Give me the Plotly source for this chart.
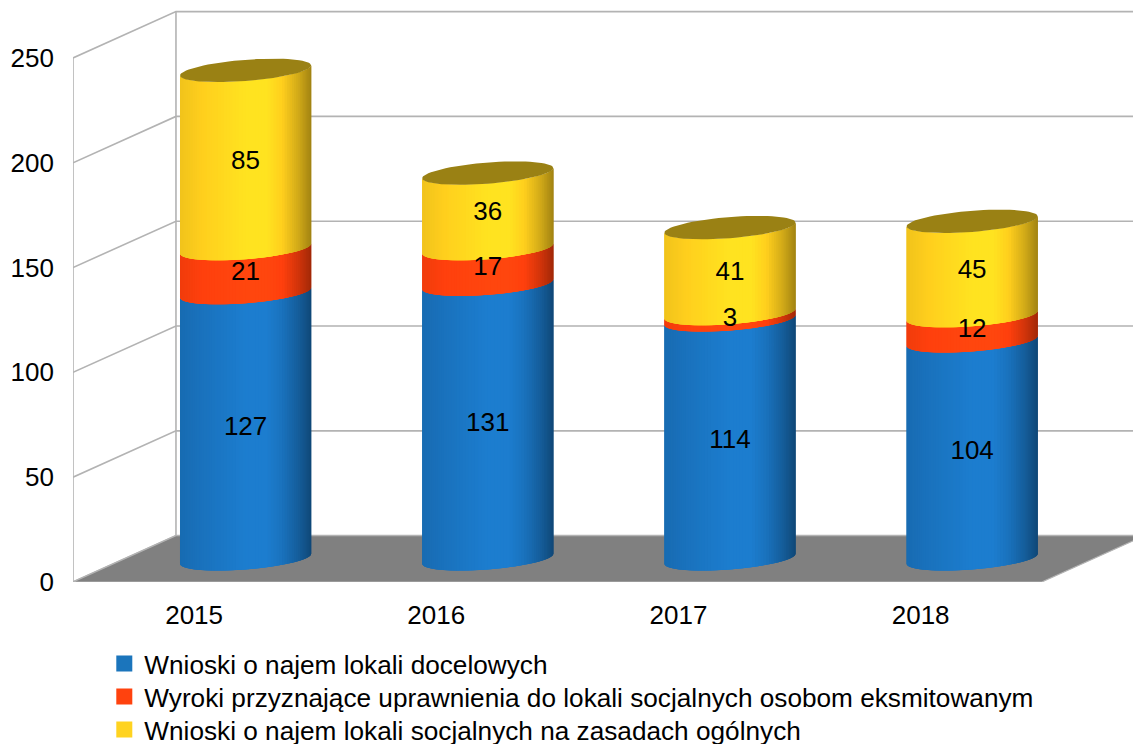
import math
import plotly.graph_objects as go

# ---- data ----
YEARS = ["2015", "2016", "2017", "2018"]
SERIES_NAMES = [
    "Wnioski o najem lokali docelowych",
    "Wyroki przyznające uprawnienia do lokali socjalnych osobom eksmitowanym",
    "Wnioski o najem lokali socjalnych na zasadach ogólnych",
]
DOCELOWE = [127, 131, 114, 104]
WYROKI = [21, 17, 3, 12]
OGOLNE = [85, 36, 41, 45]
Y_TICKS = [0, 50, 100, 150, 200, 250]

# ---- style ----
SERIES_VALUES = [DOCELOWE, WYROKI, OGOLNE]
PEAK_RGB = [(28, 125, 207), (280, 70, 14), (280, 227, 32)]
LEGEND_COL = ["#1b75bc", "#ff420e", "#ffd320"]
CAP_COL = "#9a8114"
GRID = "#b3b3b3"
FLOOR = "#808080"
FONT = "Liberation Sans"
FS = 26
LEGEND_FS = 26.2
LEGEND_ROWS_PX = [664, 697, 730]

W, H = 1133, 744
ML, MT, MB = 72.7, 10.0, 161.5
SLOT_PX = 242.25          # px per category
UNIT_PX = 2.098           # px per value unit
DEPTH_PX = (103.0, 46.4)  # oblique depth vector of the chart box
XMAX = (W - ML) / SLOT_PX - 0.5
YMAX = (H - MB - MT) / UNIT_PX

DX = DEPTH_PX[0] / SLOT_PX
DY = DEPTH_PX[1] / UNIT_PX
CX_OFF, CY_OFF = DX / 2, DY / 2
RX = 65.6 / SLOT_PX        # ellipse half-width
TILT = 5.0 / UNIT_PX       # rise of right extreme
RY = 10.6 / UNIT_PX        # depth half-height
LABEL_SHIFT = -2.5 / UNIT_PX


def rim(i, level, t):
    return (i + CX_OFF + RX * math.cos(t),
            level + CY_OFF + TILT * math.cos(t) + RY * math.sin(t))


SHADE = [(0.0, 0.86), (0.2, 0.92), (0.5, 1.0), (0.66, 1.0),
         (0.78, 0.91), (0.9, 0.75), (1.0, 0.58)]


def shade(f):
    for (a, va), (b, vb) in zip(SHADE, SHADE[1:]):
        if f <= b:
            return va + (vb - va) * (f - a) / (b - a)
    return SHADE[-1][1]


fig = go.Figure()

# walls and grid
wx, wy = [], []
for v in Y_TICKS:
    wx += [-0.5, -0.5 + DX, XMAX, None]
    wy += [v, v + DY, v + DY, None]
wx += [-0.5, -0.5, None, -0.5 + DX, -0.5 + DX, None]
wy += [0, Y_TICKS[-1], None, DY, Y_TICKS[-1] + DY, None]
fig.add_trace(go.Scatter(x=wx, y=wy, mode="lines", line=dict(color=GRID, width=1.6),
                         showlegend=False, hoverinfo="skip", cliponaxis=False))

# floor
n = len(YEARS)
fig.add_trace(go.Scatter(
    x=[-0.5, n - 0.5, n - 0.5 + DX, -0.5 + DX, -0.5],
    y=[0, 0, DY, DY, 0], mode="lines", fill="toself", fillcolor=FLOOR,
    line=dict(color=GRID, width=1.2), showlegend=False, hoverinfo="skip"))

# cylinders: vertical strips following the front rim of each band
N = 64
for s, vals in enumerate(SERIES_VALUES):
    for k in range(N):
        t0 = math.pi + math.pi * k / N
        t1 = math.pi + math.pi * min(k + 3, N) / N
        tm = math.pi + math.pi * (k + 0.5) / N
        f = (1 + math.cos(tm)) / 2
        m = shade(f)
        r, g, b = [min(255, int(round(c * m))) for c in PEAK_RGB[s]]
        xs, ys = [], []
        for i in range(n):
            lo = sum(SERIES_VALUES[q][i] for q in range(s))
            hi = lo + vals[i]
            ts = [t0 + (t1 - t0) * j / 3 for j in range(4)]
            low = [rim(i, lo, t) for t in ts]
            up = [rim(i, hi, t) for t in reversed(ts)]
            pts = low + up + [low[0]]
            xs += [p[0] for p in pts] + [None]
            ys += [p[1] for p in pts] + [None]
        fig.add_trace(go.Scatter(x=xs, y=ys, mode="lines", fill="toself",
                                 fillcolor=f"rgb({r},{g},{b})", line=dict(width=0),
                                 showlegend=False, hoverinfo="skip"))

# cap ellipses
cx, cy = [], []
for i in range(n):
    top = sum(v[i] for v in SERIES_VALUES)
    for j in range(73):
        p = rim(i, top, 2 * math.pi * j / 72)
        cx.append(p[0])
        cy.append(p[1])
    cx.append(None)
    cy.append(None)
fig.add_trace(go.Scatter(x=cx, y=cy, mode="lines", fill="toself", fillcolor=CAP_COL,
                         line=dict(width=0), showlegend=False, hoverinfo="skip"))

# value labels
for s, vals in enumerate(SERIES_VALUES):
    lx, ly, lt = [], [], []
    for i in range(n):
        lo = sum(SERIES_VALUES[q][i] for q in range(s))
        lx.append(i + CX_OFF)
        ly.append(lo + vals[i] / 2 + CY_OFF + LABEL_SHIFT)
        lt.append(str(vals[i]))
    fig.add_trace(go.Scatter(x=lx, y=ly, text=lt, mode="text", textposition="middle center",
                             textfont=dict(family=FONT, size=FS, color="black"),
                             showlegend=False, hoverinfo="skip", cliponaxis=False))

# legend entries: one legend per row so the row pitch can match
legend_layout = {}
for idx, (name, col, row) in enumerate(zip(SERIES_NAMES, LEGEND_COL, LEGEND_ROWS_PX)):
    key = "legend" if idx == 0 else f"legend{idx + 1}"
    fig.add_trace(go.Scatter(x=[None], y=[None], mode="markers", name=name, legend=key,
                             marker=dict(symbol="square", size=16, color=col)))
    legend_layout[key] = dict(
        xref="container", yref="container", x=104.3 / W, y=1 - row / H,
        xanchor="left", yanchor="middle", orientation="v", itemwidth=30,
        bgcolor="rgba(0,0,0,0)", borderwidth=0,
        font=dict(family=FONT, size=LEGEND_FS, color="black"))

fig.update_layout(
    width=W, height=H, autosize=False,
    margin=dict(l=ML, r=0, t=MT, b=MB, pad=0, autoexpand=False),
    paper_bgcolor="white", plot_bgcolor="white",
    font=dict(family=FONT, size=FS, color="black"),
    xaxis=dict(range=[-0.5, XMAX], tickvals=list(range(n)), ticktext=YEARS, tickangle=0,
               showgrid=False, zeroline=False, showline=False, ticks="",
               ticklabelstandoff=15, tickfont=dict(family=FONT, size=FS, color="black")),
    yaxis=dict(range=[0, YMAX], tickvals=Y_TICKS, showgrid=False, zeroline=False,
               showline=False, ticks="", ticklabelstandoff=18,
               tickfont=dict(family=FONT, size=FS, color="black")),
    showlegend=True,
    **legend_layout,
)

fig.write_html("out.html", config={"displayModeBar": False},
               post_script="document.body.style.margin='0';document.body.style.overflow='hidden';")
